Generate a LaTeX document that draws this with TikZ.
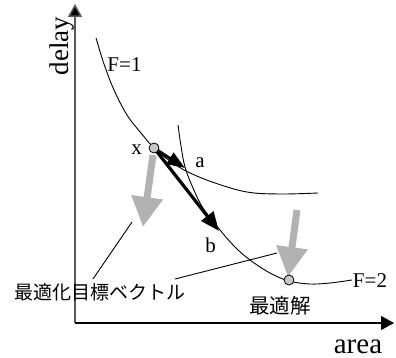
\documentclass[tikz,border=0pt]{standalone}
\usepackage{fontspec}
\setmainfont{Liberation Serif}
\newfontfamily\cjk{Noto Sans CJK JP}
\usetikzlibrary{arrows.meta}
\begin{document}
\begin{tikzpicture}[x=1pt,y=-1pt,
  axisline/.style={line width=1.5pt},
  curveline/.style={line width=0.9pt},
  goalarrow/.style={line width=7pt, draw=black!30, -{Triangle[length=30pt,width=30pt,fill=black!30]}},
  movearrow/.style={line width=3.2pt, -{Triangle[length=19pt,width=15pt]}},
  ptdot/.style={circle, draw, fill=black!22, minimum size=10pt, inner sep=0pt, line width=0.8pt},
  lbl/.style={font=\fontsize{21}{21}\selectfont, inner sep=0pt},
  jlbl/.style={font=\cjk\fontsize{19}{19}\selectfont, inner sep=0pt},
  pointer/.style={line width=0.9pt}]
\useasboundingbox (0,0) rectangle (396,358);
% axes
\coordinate (o) at (75,323);
\coordinate (ytip) at (75,4);
\coordinate (xtip) at (394,323);
\draw[axisline, draw=black!65, -{Triangle[length=13pt,width=14pt,fill=black]}] (o) -- (ytip);
\draw[axisline, line width=1.2pt, -{Triangle[length=13pt,width=14pt]}] (o) -- (xtip);
\node[font=\fontsize{27}{27}\selectfont, inner sep=0pt, rotate=90, anchor=base] (delay) at (68,46) {delay};
\node[font=\fontsize{29}{29}\selectfont, inner sep=0pt, anchor=base] (area) at (358,353) {area};
% curves
\draw[curveline] plot[smooth, tension=0.6] coordinates {(96,38) (104,64) (114,90) (127,115) (141,133) (154,148) (170,161) (188,172) (215,183) (247,192) (280,194) (318,193)};
\draw[curveline] plot[smooth, tension=0.6] coordinates {(178,125) (181,146) (185,167) (193,188) (203,208) (220,230) (235,247) (250,260) (270,273) (289,281) (310,284) (330,283) (352,280)};
\node[lbl] (f1) at (124.5,64.5) {F=1};
\node[lbl] (f2) at (370,281) {F=2};
% points
\coordinate (xc) at (154,148);
\coordinate (opt) at (289,280);
\node[lbl] (xl) at (136.5,149.5) {x};
% black move arrows
\coordinate (atip) at (185,168);
\coordinate (btip) at (219,231);
\draw[movearrow, line width=2.8pt, -{Triangle[length=18pt,width=13pt]}] (xc) -- (atip);
\draw[movearrow] (xc) -- (btip);
\node[lbl] (al) at (200,163) {a};
\node[lbl] (bl) at (210.5,245.5) {b};
% gray goal arrows
\coordinate (g1s) at (153,155);
\coordinate (g1e) at (143,227);
\coordinate (g2s) at (297,210);
\coordinate (g2e) at (288,277);
\draw[goalarrow] (g1s) -- (g1e);
\draw[goalarrow] (g2s) -- (g2e);
% dots on top
\node[ptdot] (xdot) at (xc) {};
\node[ptdot] (optdot) at (opt) {};
% labels and pointers
\node[jlbl] (goal) at (100,292) {最適化目標ベクトル};
\node[font=\cjk\fontsize{20.5}{20.5}\selectfont, inner sep=0pt] (optl) at (280,306) {最適解};
\coordinate (p1a) at (93,279);
\coordinate (p1b) at (132,222);
\coordinate (p2a) at (175,279);
\coordinate (p2b) at (277,253);
\draw[pointer] (p1a) -- (p1b);
\draw[pointer] (p2a) -- (p2b);
\end{tikzpicture}
\end{document}
